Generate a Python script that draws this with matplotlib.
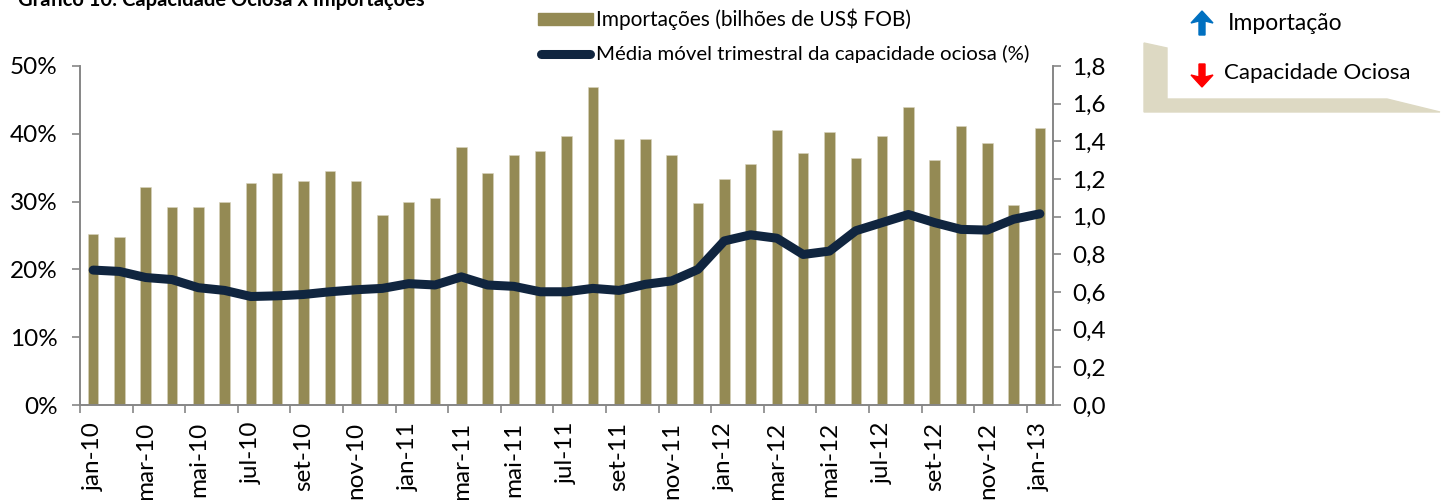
import matplotlib
matplotlib.use("Agg")
import matplotlib.pyplot as plt
from matplotlib.patches import Rectangle, Polygon
from matplotlib.lines import Line2D

plt.rcParams['font.family'] = ['Lato', 'DejaVu Sans']

# ---------------------------------------------------------------------------
# data
# ---------------------------------------------------------------------------
months = ['jan-10', 'fev-10', 'mar-10', 'abr-10', 'mai-10', 'jun-10', 'jul-10',
          'ago-10', 'set-10', 'out-10', 'nov-10', 'dez-10',
          'jan-11', 'fev-11', 'mar-11', 'abr-11', 'mai-11', 'jun-11', 'jul-11',
          'ago-11', 'set-11', 'out-11', 'nov-11', 'dez-11',
          'jan-12', 'fev-12', 'mar-12', 'abr-12', 'mai-12', 'jun-12', 'jul-12',
          'ago-12', 'set-12', 'out-12', 'nov-12', 'dez-12',
          'jan-13']

# imports, right axis
importacoes = [0.91, 0.89, 1.16, 1.05, 1.05, 1.08, 1.18, 1.23, 1.19, 1.24, 1.19, 1.01,
               1.08, 1.10, 1.37, 1.23, 1.33, 1.35, 1.43, 1.69, 1.41, 1.41, 1.33, 1.07,
               1.20, 1.28, 1.46, 1.34, 1.45, 1.31, 1.43, 1.58, 1.30, 1.48, 1.39, 1.06,
               1.47]

# 3-month moving average of idle capacity (%), left axis
capacidade_ociosa = [19.9, 19.7, 18.8, 18.5, 17.3, 16.9, 16.0, 16.1, 16.3, 16.7, 17.0, 17.2,
                     17.9, 17.7, 18.9, 17.7, 17.5, 16.7, 16.7, 17.2, 16.9, 17.8, 18.3, 20.0,
                     24.2, 25.1, 24.6, 22.2, 22.7, 25.7, 26.9, 28.1, 26.9, 25.9, 25.8, 27.4,
                     28.2]

left_ticks = [0, 10, 20, 30, 40, 50]
right_ticks = [0.0, 0.2, 0.4, 0.6, 0.8, 1.0, 1.2, 1.4, 1.6, 1.8]

title = 'Gráfico 10: Capacidade Ociosa x Importações'
bar_label = 'Importações (bilhões de US$ FOB)'
line_label = 'Média móvel trimestral da capacidade ociosa (%)'

BAR_COLOR = '#948A54'
LINE_COLOR = '#10253F'
AXIS_COLOR = '#868686'
BOX_COLOR = '#DDD9C3'

W, H = 1448, 500

fig = plt.figure(figsize=(W / 100, H / 100), dpi=100)
ax = fig.add_axes([80 / W, 1 - 405 / H, (1053 - 80) / W, (405 - 66) / H])
ax2 = ax.twinx()

x = list(range(len(months)))

# bars on the right axis, line on the left axis drawn above them
ax2.bar(x, importacoes, width=0.4, color=BAR_COLOR, edgecolor='#D8D3BD', linewidth=0.4)
ax.plot(x, capacidade_ociosa, color=LINE_COLOR, linewidth=6.5,
        solid_capstyle='round', solid_joinstyle='round')
ax.set_zorder(ax2.get_zorder() + 1)
ax.patch.set_visible(False)

ax.set_xlim(-0.5, len(months) - 0.5)
ax.set_ylim(0, 50)
ax2.set_ylim(0, 1.8)

ax.set_yticks(left_ticks)
ax.set_yticklabels([f'{v}%' for v in left_ticks])
ax2.set_yticks(right_ticks)
ax2.set_yticklabels([f'{v:.1f}'.replace('.', ',') for v in right_ticks])

# ticks between categories every 2 months, labels centred on the category
ax.set_xticks([i - 0.5 for i in x[::2]])
ax.set_xticklabels([])
ax.set_xticks(x[::2], minor=True)
ax.set_xticklabels(months[::2], minor=True, rotation=90, va='top', ha='center')
ax.tick_params(axis='x', which='minor', length=0, pad=12, labelsize=17.5)
ax.tick_params(axis='x', which='major', length=6, width=1.2, color=AXIS_COLOR, direction='out')
ax.tick_params(axis='y', length=6, width=1.2, color=AXIS_COLOR, pad=10, labelsize=17.5)
ax2.tick_params(axis='y', length=6, width=1.2, color=AXIS_COLOR, pad=8, labelsize=17.5)

for a in (ax, ax2):
    a.spines['top'].set_visible(False)
    for s in ('left', 'right', 'bottom'):
        a.spines[s].set_color(AXIS_COLOR)
        a.spines[s].set_linewidth(1.2)


def px(points):
    return [(px_x / W, 1 - px_y / H) for px_x, px_y in points]


# cut-off title at the very top
fig.text(18 / W, 1 - 6 / H, title, fontsize=14.5, fontweight='bold', va='baseline', ha='left')

# legend drawn by hand above the plot
fig.patches.append(Rectangle((538 / W, 1 - 25 / H), 55 / W, 12 / H,
                             transform=fig.transFigure, color=BAR_COLOR))
fig.lines.append(Line2D([541 / W, 590 / W], [1 - 54 / H, 1 - 54 / H], transform=fig.transFigure,
                        color=LINE_COLOR, linewidth=6.5, solid_capstyle='round'))
fig.text(596 / W, 1 - 19 / H, bar_label, fontsize=15, va='center', ha='left')
fig.text(596 / W, 1 - 54 / H, line_label, fontsize=14.7, va='center', ha='left')

# beige bracket box on the right
fig.patches.append(Polygon(px([(1144, 43), (1167, 48), (1167, 99), (1387, 99),
                               (1440, 112), (1144, 112)]),
                           closed=True, transform=fig.transFigure, color=BOX_COLOR))

# up / down arrows
up = [(1202, 11), (1213, 23), (1205, 21), (1205, 35), (1199, 35), (1199, 21), (1191, 23)]
down = [(1202, 87), (1213, 75), (1205, 77), (1205, 64), (1199, 64), (1199, 77), (1191, 75)]
fig.patches.append(Polygon(px(up), closed=True, transform=fig.transFigure, color='#0070C0'))
fig.patches.append(Polygon(px(down), closed=True, transform=fig.transFigure, color='#FF0000'))
fig.text(1228 / W, 1 - 23 / H, 'Importação', fontsize=16.5, va='center', ha='left')
fig.text(1224 / W, 1 - 73 / H, 'Capacidade Ociosa', fontsize=16, va='center', ha='left')

fig.savefig('out.png', dpi=100)
